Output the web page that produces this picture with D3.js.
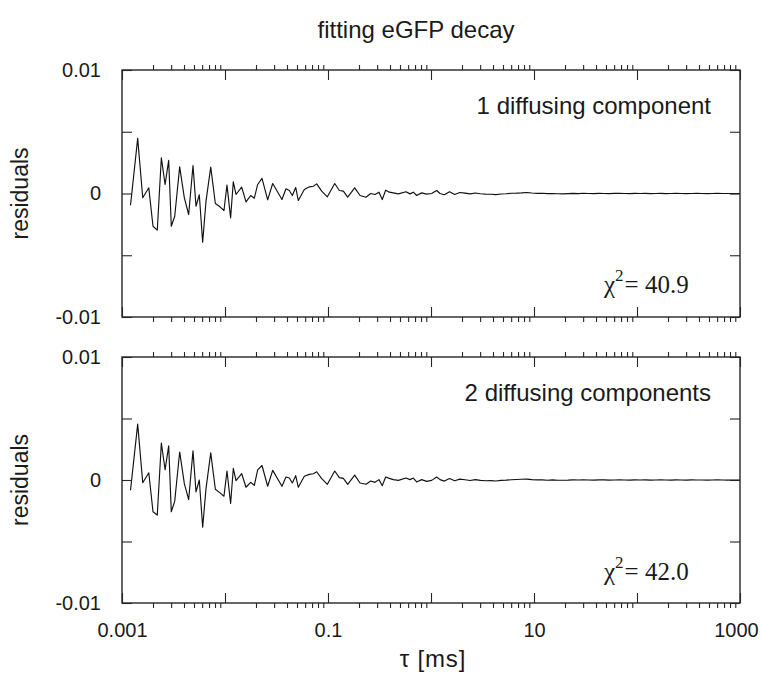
<!DOCTYPE html>
<html>
<head>
<meta charset="utf-8">
<script src="https://cdn.jsdelivr.net/npm/d3@7"></script>
<style>
  body { margin: 0; background: #fff; }
  svg { display: block; }
</style>
</head>
<body>
<svg id="chart" width="762" height="674"></svg>
<script>
// ---------- data ----------
const title = "fitting eGFP decay";
const panelLabels = ["1 diffusing component", "2 diffusing components"];
const chiValues = ["40.9", "42.0"];
const xTickValues = [0.001, 0.01, 0.1, 1, 10, 100, 1000];
const xTickLabels = ["0.001", "", "0.1", "", "10", "", "1000"];
const yTickValues = [-0.01, -0.005, 0, 0.005, 0.01];
const yTickLabels = ["-0.01", "", "0", "", "0.01"];
const xTitle = "τ [ms]";
const yTitle = "residuals";

const tau = [
  0.00121, 0.00142, 0.00159, 0.00182, 0.00200, 0.00220, 0.00241, 0.00262, 0.00284, 0.00301,
  0.00325, 0.00363, 0.00403, 0.00444, 0.00489, 0.00523, 0.00563, 0.00607, 0.00654, 0.00727,
  0.00806, 0.00894, 0.00977, 0.01045, 0.01134, 0.01204, 0.01279, 0.01452, 0.01600, 0.01775,
  0.01927, 0.02076, 0.02287, 0.02596, 0.02904, 0.03574, 0.03908, 0.04211, 0.04503, 0.04856,
  0.05152, 0.05890, 0.06590, 0.07208, 0.07768, 0.08686, 0.09860, 0.1162, 0.1289, 0.1410,
  0.1553, 0.1816, 0.2046, 0.2339, 0.2597, 0.2858, 0.3126, 0.3367, 0.3629, 0.3939,
  0.4307, 0.4819, 0.5718, 0.6252, 0.6737, 0.7257, 0.8118, 0.9075, 1.015, 1.135, 1.223,
  1.349, 1.514, 1.698, 1.905, 2.138, 2.399, 2.692, 3.020, 3.388, 3.802,
  4.266, 4.786, 5.370, 6.026, 6.761, 7.586, 8.511, 9.550, 10.72, 12.02,
  13.49, 15.14, 16.98, 19.05, 21.38, 23.99, 26.92, 30.20, 33.88, 38.02,
  42.66, 47.86, 53.70, 60.26, 67.61, 75.86, 85.11, 95.50, 107.2, 120.2,
  134.9, 151.4, 169.8, 190.5, 213.8, 239.9, 269.2, 302.0, 338.8, 380.2,
  426.6, 478.6, 537.0, 602.6, 676.1, 758.6, 851.1, 955.0, 1000
];

const residuals1 = [
  -0.00095, 0.00446, -0.00035, 0.00046, -0.00265, -0.00297, 0.00289, 0.00073, 0.00268, -0.00265,
  -0.00184, 0.00216, -0.00035, -0.0017, 0.00227, -0.00103, -0.0001, -0.00395, -0.00062, 0.00214,
  -0.00081, -0.00108, -0.00138, 0.00068, -0.00197, 0.00095, -0.00008, 0.00051, -0.00068, -0.00016,
  -0.00038, 0.00073, 0.00122, -0.00051, 0.00081, -0.00049, 0.00038, 0.00024, -0.00016, 0.00049,
  -0.00057, 0.00032, 0.00054, 0.00059, 0.00078, 0.00019, -0.00027, 0.00081, 0.00024, 0.00019,
  -0.0003, 0.00046, -0.00016, -0.0003, 0, -0.00008, 0.00011, -0.00049, 0.00027, 0.00011,
  0.00005, -0.00003, 0.00014, -0.00003, 0.00011, -0.00016, 0.00005, -0.00005, 0, 0.00024, 0,
  -0.0001, 0.00015, -0.00008, 0.00008, 0.00003, -0.00003, 0.00004, -0.00002, -0.00005, -0.00006,
  -0.00009, -0.00004, -0.00002, 0.00002, 0.00003, 0.00005, 0.00008, 0.00004, 0.00001, 0.00002,
  -0.00001, 0, -0.00002, -0.00003, -0.00001, 0.00001, -0.00001, 0.00002, 0, -0.00001,
  0.00001, 0, -0.00001, 0.00001, 0.00002, 0, -0.00001, 0.00001, 0, 0.00001,
  -0.00001, 0, 0.00001, -0.00001, 0, 0.00001, 0, -0.00001, 0, 0.00001,
  0, -0.00001, 0, 0.00001, 0, 0, -0.00001, 0, 0
];

const residuals2 = [
  -0.00083, 0.00454, -0.00022, 0.00059, -0.00258, -0.00285, 0.00301, 0.00083, 0.00277, -0.00258,
  -0.00172, 0.00228, -0.0003, -0.00159, 0.00237, -0.00097, 0, -0.00384, -0.0007, 0.0022,
  -0.00075, -0.00105, -0.00132, 0.00073, -0.00191, 0.00094, -0.00005, 0.00051, -0.00059, -0.00019,
  -0.00043, 0.00083, 0.00118, -0.00051, 0.00078, -0.00051, 0.00024, 0.00016, -0.00024, 0.00035,
  -0.00059, 0.0003, 0.00046, 0.00051, 0.00067, 0.00011, -0.00035, 0.00073, 0.00019, 0.00013,
  -0.00035, 0.0004, -0.00024, -0.00035, -0.00008, -0.00019, 0.00003, -0.00046, 0.00024, 0.00013,
  0.00003, -0.00003, 0.00016, 0.00003, 0.00016, -0.00016, 0.00003, -0.00011, -0.00003, 0.00024, 0.00003,
  -0.00009, 0.00012, -0.00006, 0.00007, 0.00002, -0.00004, 0.00003, -0.00003, -0.00006, -0.00005,
  -0.00008, -0.00003, -0.00001, 0.00002, 0.00004, 0.00006, 0.00007, 0.00003, 0.00001, 0.00001,
  -0.00002, 0.00001, -0.00002, -0.00002, -0.00001, 0.00001, 0, 0.00001, 0, -0.00001,
  0.00001, 0.00001, -0.00001, 0, 0.00002, 0, -0.00001, 0.00001, 0, 0.00001,
  -0.00001, 0, 0.00001, 0, -0.00001, 0.00001, 0, -0.00001, 0.00001, 0,
  0, -0.00001, 0, 0.00001, 0, -0.00001, 0, 0, 0
];

const series = [residuals1, residuals2];

// ---------- layout ----------
const svg = d3.select("#chart");
const left = 122, right = 740;
const panels = [{top: 70, bottom: 317}, {top: 357, bottom: 603}];
const frameColor = "#262626";
const textColor = "#1a1a1a";
const sans = "'Liberation Sans', Arial, Helvetica, sans-serif";
const serif = "'Liberation Serif', 'Times New Roman', serif";

const x = d3.scaleLog().domain([0.001, 1000]).range([left, right]);

// minor ticks (2..9 within each decade)
const minorTicks = [];
for (let e = -3; e < 3; e++) {
  for (let m = 2; m <= 9; m++) minorTicks.push(m * Math.pow(10, e));
}

svg.append("text")
  .attr("x", 416).attr("y", 38)
  .attr("text-anchor", "middle")
  .attr("font-family", sans).attr("font-size", 24)
  .attr("fill", textColor)
  .text(title);

panels.forEach((p, i) => {
  const y = d3.scaleLinear().domain([-0.01, 0.01]).range([p.bottom, p.top]);
  const g = svg.append("g");

  const clipId = "clip" + i;
  svg.append("clipPath").attr("id", clipId)
    .append("rect").attr("x", left).attr("y", p.top)
    .attr("width", right - left).attr("height", p.bottom - p.top);

  // data line
  const line = d3.line().x((d, k) => x(tau[k])).y(d => y(d));
  g.append("path")
    .datum(series[i])
    .attr("clip-path", `url(#${clipId})`)
    .attr("fill", "none")
    .attr("stroke", "#111")
    .attr("stroke-width", 1.15)
    .attr("stroke-linejoin", "round")
    .attr("d", line);

  // frame
  g.append("rect")
    .attr("x", left).attr("y", p.top)
    .attr("width", right - left).attr("height", p.bottom - p.top)
    .attr("fill", "none").attr("stroke", frameColor).attr("stroke-width", 1.4);

  // x axes: major ticks inside, minor ticks outside
  const axTop = d3.axisTop(x).tickValues(minorTicks).tickSize(5).tickFormat("");
  const axBot = d3.axisBottom(x).tickValues(minorTicks).tickSize(5).tickFormat("");
  const majTop = d3.axisTop(x).tickValues(xTickValues).tickSize(-10).tickFormat("");
  const majBot = d3.axisBottom(x).tickValues(xTickValues).tickSize(-10)
    .tickFormat((d, k) => i === 1 ? xTickLabels[k] : "").tickPadding(20);

  [ [axTop, p.top], [axBot, p.bottom], [majTop, p.top], [majBot, p.bottom] ].forEach(([ax, ty]) => {
    const a = g.append("g").attr("transform", `translate(0,${ty})`).call(ax);
    a.select(".domain").remove();
    a.selectAll(".tick line").attr("stroke", frameColor).attr("stroke-width", 1.1);
    a.selectAll(".tick text").attr("font-family", sans).attr("font-size", 20).attr("fill", textColor);
    a.selectAll(".tick text").filter(d => d === 1000).attr("dx", -4);
  });

  // y axes
  const yl = d3.axisLeft(y).tickValues(yTickValues).tickSize(-10)
    .tickFormat((d, k) => yTickLabels[k]).tickPadding(21);
  const yr = d3.axisRight(y).tickValues(yTickValues).tickSize(-10).tickFormat("");
  [[yl, left], [yr, right]].forEach(([ax, tx]) => {
    const a = g.append("g").attr("transform", `translate(${tx},0)`).call(ax);
    a.select(".domain").remove();
    a.selectAll(".tick line").attr("stroke", frameColor).attr("stroke-width", 1.1);
    a.selectAll(".tick text").attr("font-family", sans).attr("font-size", 20).attr("fill", textColor);
  });

  // y title
  const cy = (p.top + p.bottom) / 2;
  g.append("text")
    .attr("transform", `translate(28,${cy}) rotate(-90)`)
    .attr("text-anchor", "middle")
    .attr("font-family", sans).attr("font-size", 23).attr("fill", textColor)
    .text(yTitle);

  // panel label
  g.append("text")
    .attr("x", 711).attr("y", p.top + 44)
    .attr("text-anchor", "end")
    .attr("font-family", sans).attr("font-size", 24).attr("fill", textColor)
    .text(panelLabels[i]);

  // chi-square
  const t = g.append("text")
    .attr("x", 604).attr("y", p.top + 223)
    .attr("font-family", serif).attr("font-size", 25).attr("fill", textColor);
  t.append("tspan").text("χ");
  t.append("tspan").attr("dy", -12).attr("font-size", 17).text("2");
  t.append("tspan").attr("dy", 12).attr("dx", 1).text("= " + chiValues[i]);
});

svg.append("text")
  .attr("x", 433).attr("y", 667)
  .attr("text-anchor", "middle")
  .attr("font-family", sans).attr("font-size", 24).attr("fill", textColor)
  .attr("letter-spacing", 0.8)
  .text(xTitle);
</script>
</body>
</html>
